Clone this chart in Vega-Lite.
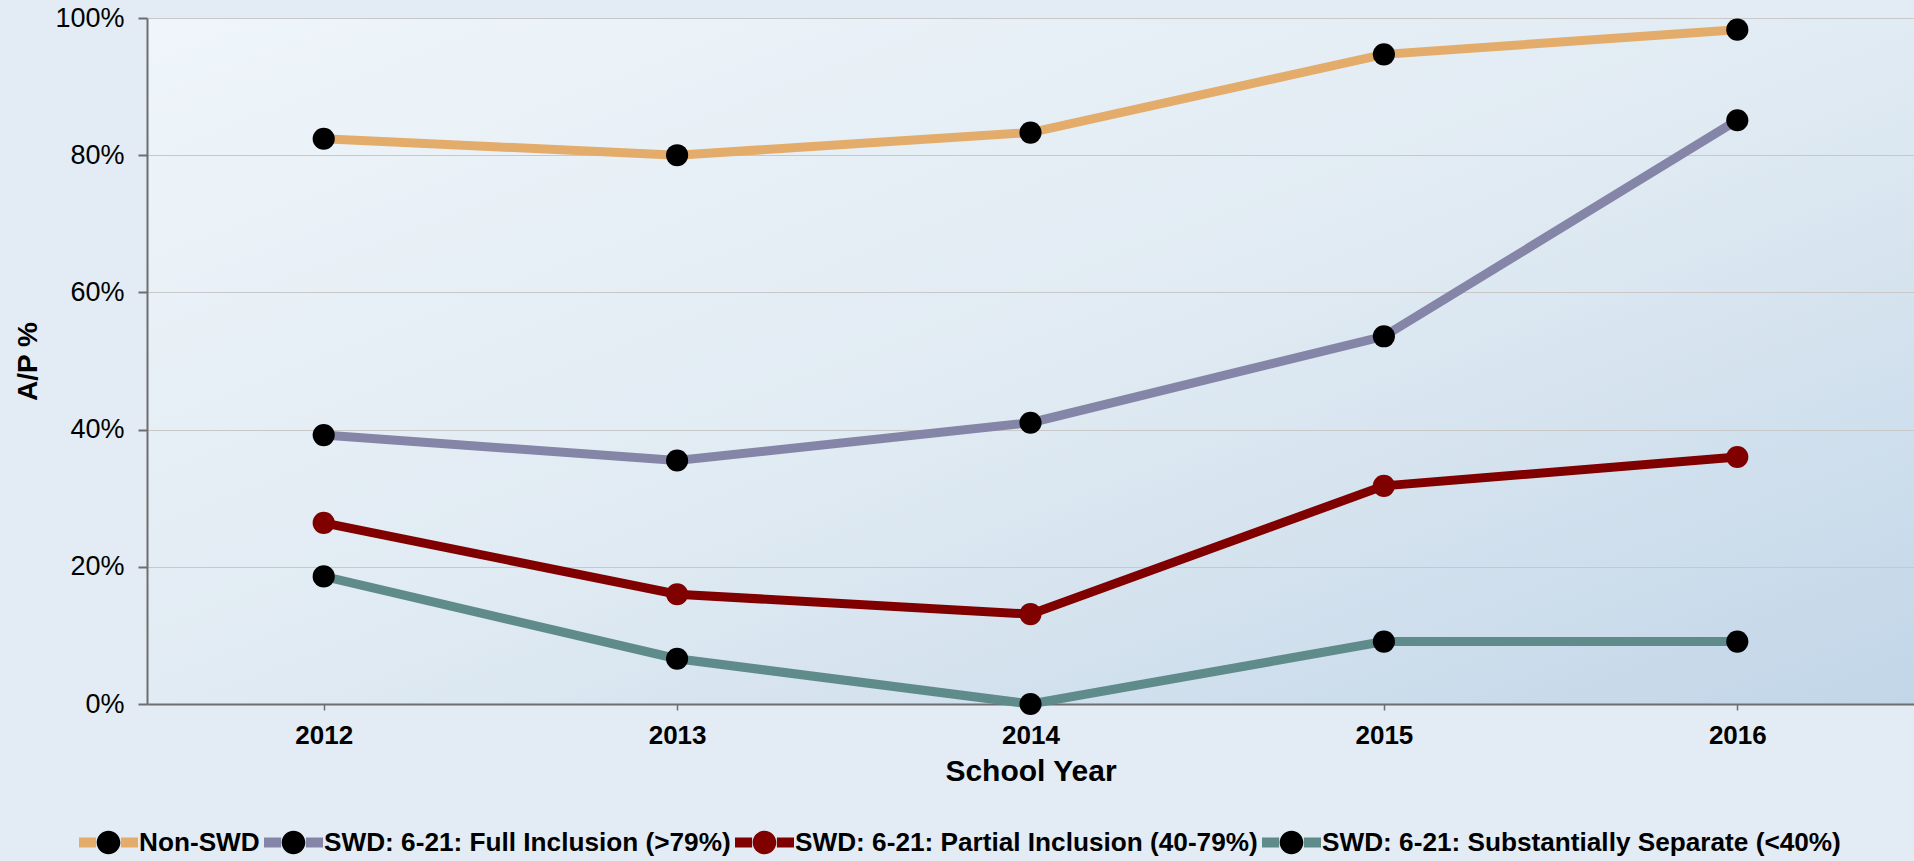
{
  "$schema": "https://vega.github.io/schema/vega-lite/v6.json",
  "autosize": "none",
  "width": 1767,
  "height": 686,
  "padding": {"left": 147, "top": 18, "right": 0, "bottom": 157},
  "background": "#E3ECF4",
  "data": {
    "values": [
      {"year": "2012", "series": "Non-SWD", "value": 82.4},
      {"year": "2013", "series": "Non-SWD", "value": 80.0},
      {"year": "2014", "series": "Non-SWD", "value": 83.3},
      {"year": "2015", "series": "Non-SWD", "value": 94.7},
      {"year": "2016", "series": "Non-SWD", "value": 98.3},
      {"year": "2012", "series": "SWD: 6-21: Full Inclusion (>79%)", "value": 39.2},
      {"year": "2013", "series": "SWD: 6-21: Full Inclusion (>79%)", "value": 35.5},
      {"year": "2014", "series": "SWD: 6-21: Full Inclusion (>79%)", "value": 41.0},
      {"year": "2015", "series": "SWD: 6-21: Full Inclusion (>79%)", "value": 53.6},
      {"year": "2016", "series": "SWD: 6-21: Full Inclusion (>79%)", "value": 85.1},
      {"year": "2012", "series": "SWD: 6-21: Partial Inclusion (40-79%)", "value": 26.4},
      {"year": "2013", "series": "SWD: 6-21: Partial Inclusion (40-79%)", "value": 16.0},
      {"year": "2014", "series": "SWD: 6-21: Partial Inclusion (40-79%)", "value": 13.1},
      {"year": "2015", "series": "SWD: 6-21: Partial Inclusion (40-79%)", "value": 31.8},
      {"year": "2016", "series": "SWD: 6-21: Partial Inclusion (40-79%)", "value": 36.0},
      {"year": "2012", "series": "SWD: 6-21: Substantially Separate (<40%)", "value": 18.6},
      {"year": "2013", "series": "SWD: 6-21: Substantially Separate (<40%)", "value": 6.6},
      {"year": "2014", "series": "SWD: 6-21: Substantially Separate (<40%)", "value": 0.0},
      {"year": "2015", "series": "SWD: 6-21: Substantially Separate (<40%)", "value": 9.1},
      {"year": "2016", "series": "SWD: 6-21: Substantially Separate (<40%)", "value": 9.1}
    ]
  },
  "encoding": {
    "x": {
      "field": "year",
      "type": "ordinal",
      "scale": {"type": "point", "padding": 0.5},
      "axis": {
        "title": "School Year",
        "labelAngle": 0,
        "labelFont": "Liberation Sans",
        "labelFontSize": 26,
        "labelFontWeight": "bold",
        "labelColor": "#000000",
        "labelPadding": 12,
        "tickSize": 6,
        "tickWidth": 1.5,
        "tickColor": "#6E6E6E",
        "domainColor": "#6E6E6E",
        "domainWidth": 2,
        "titleFont": "Liberation Sans",
        "titleFontSize": 30,
        "titleFontWeight": "bold",
        "titleColor": "#000000",
        "titlePadding": 8
      }
    },
    "y": {
      "field": "value",
      "type": "quantitative",
      "scale": {"domain": [0, 100], "nice": false},
      "axis": {
        "title": "A/P %",
        "values": [0, 20, 40, 60, 80, 100],
        "labelExpr": "datum.value + '%'",
        "labelFont": "Liberation Sans",
        "labelFontSize": 27,
        "labelColor": "#000000",
        "labelPadding": 14,
        "tickSize": 9,
        "tickWidth": 2,
        "tickColor": "#6E6E6E",
        "domainColor": "#6E6E6E",
        "domainWidth": 2,
        "grid": true,
        "gridColor": "#C8C8C8",
        "gridWidth": 1,
        "titleFont": "Liberation Sans",
        "titleFontSize": 28,
        "titleFontWeight": "bold",
        "titleColor": "#000000",
        "titlePadding": 12
      }
    }
  },
  "layer": [
    {
      "mark": {"type": "line", "strokeWidth": 9},
      "encoding": {
        "stroke": {
          "field": "series",
          "type": "nominal",
          "scale": {
            "domain": [
              "Non-SWD",
              "SWD: 6-21: Full Inclusion (>79%)",
              "SWD: 6-21: Partial Inclusion (40-79%)",
              "SWD: 6-21: Substantially Separate (<40%)"
            ],
            "range": ["#E3AC6B", "#8585A8", "#800000", "#5F8B8B"]
          },
          "legend": {
            "title": null,
            "orient": "none",
            "legendX": -73,
            "legendY": 790,
            "direction": "horizontal",
            "columns": 4,
            "padding": 0,
            "columnPadding": -16,
            "gridAlign": "none",
            "symbolType": "M-1,0H-0.42M0.42,0H1",
            "symbolSize": 3481,
            "symbolStrokeWidth": 10,
            "labelOffset": -4,
            "labelFont": "Liberation Sans",
            "labelFontSize": 26.2,
            "labelFontWeight": "bold",
            "labelColor": "#000000",
            "labelLimit": 0
          }
        },
        "detail": {"field": "series"}
      }
    },
    {
      "mark": {"type": "point", "filled": true, "opacity": 1, "size": 490, "shape": "circle"},
      "encoding": {
        "fill": {
          "field": "series",
          "type": "nominal",
          "scale": {"range": ["#000000", "#000000", "#800000", "#000000"]},
          "legend": {
            "title": null,
            "orient": "none",
            "legendX": -73,
            "legendY": 790,
            "direction": "horizontal",
            "columns": 4,
            "padding": 0,
            "columnPadding": -16,
            "gridAlign": "none",
            "symbolType": "M-1,0L-1,0M1,0L1,0M-0.4,0A0.4,0.4 0 1,0 0.4,0A0.4,0.4 0 1,0 -0.4,0Z",
            "symbolSize": 3481,
            "symbolStrokeWidth": 10,
            "symbolStrokeColor": "transparent",
            "symbolOpacity": 1,
            "labelOffset": -4,
            "labelFont": "Liberation Sans",
            "labelFontSize": 26.2,
            "labelFontWeight": "bold",
            "labelColor": "transparent",
            "labelLimit": 0
          }
        }
      }
    }
  ],
  "config": {
    "view": {
      "stroke": null,
      "fill": {
        "gradient": "linear",
        "x1": 0, "y1": 0, "x2": 1, "y2": 1,
        "stops": [
          {"offset": 0, "color": "#EFF5FA"},
          {"offset": 0.5, "color": "#E1EBF3"},
          {"offset": 1, "color": "#C2D6E8"}
        ]
      }
    }
  }
}
